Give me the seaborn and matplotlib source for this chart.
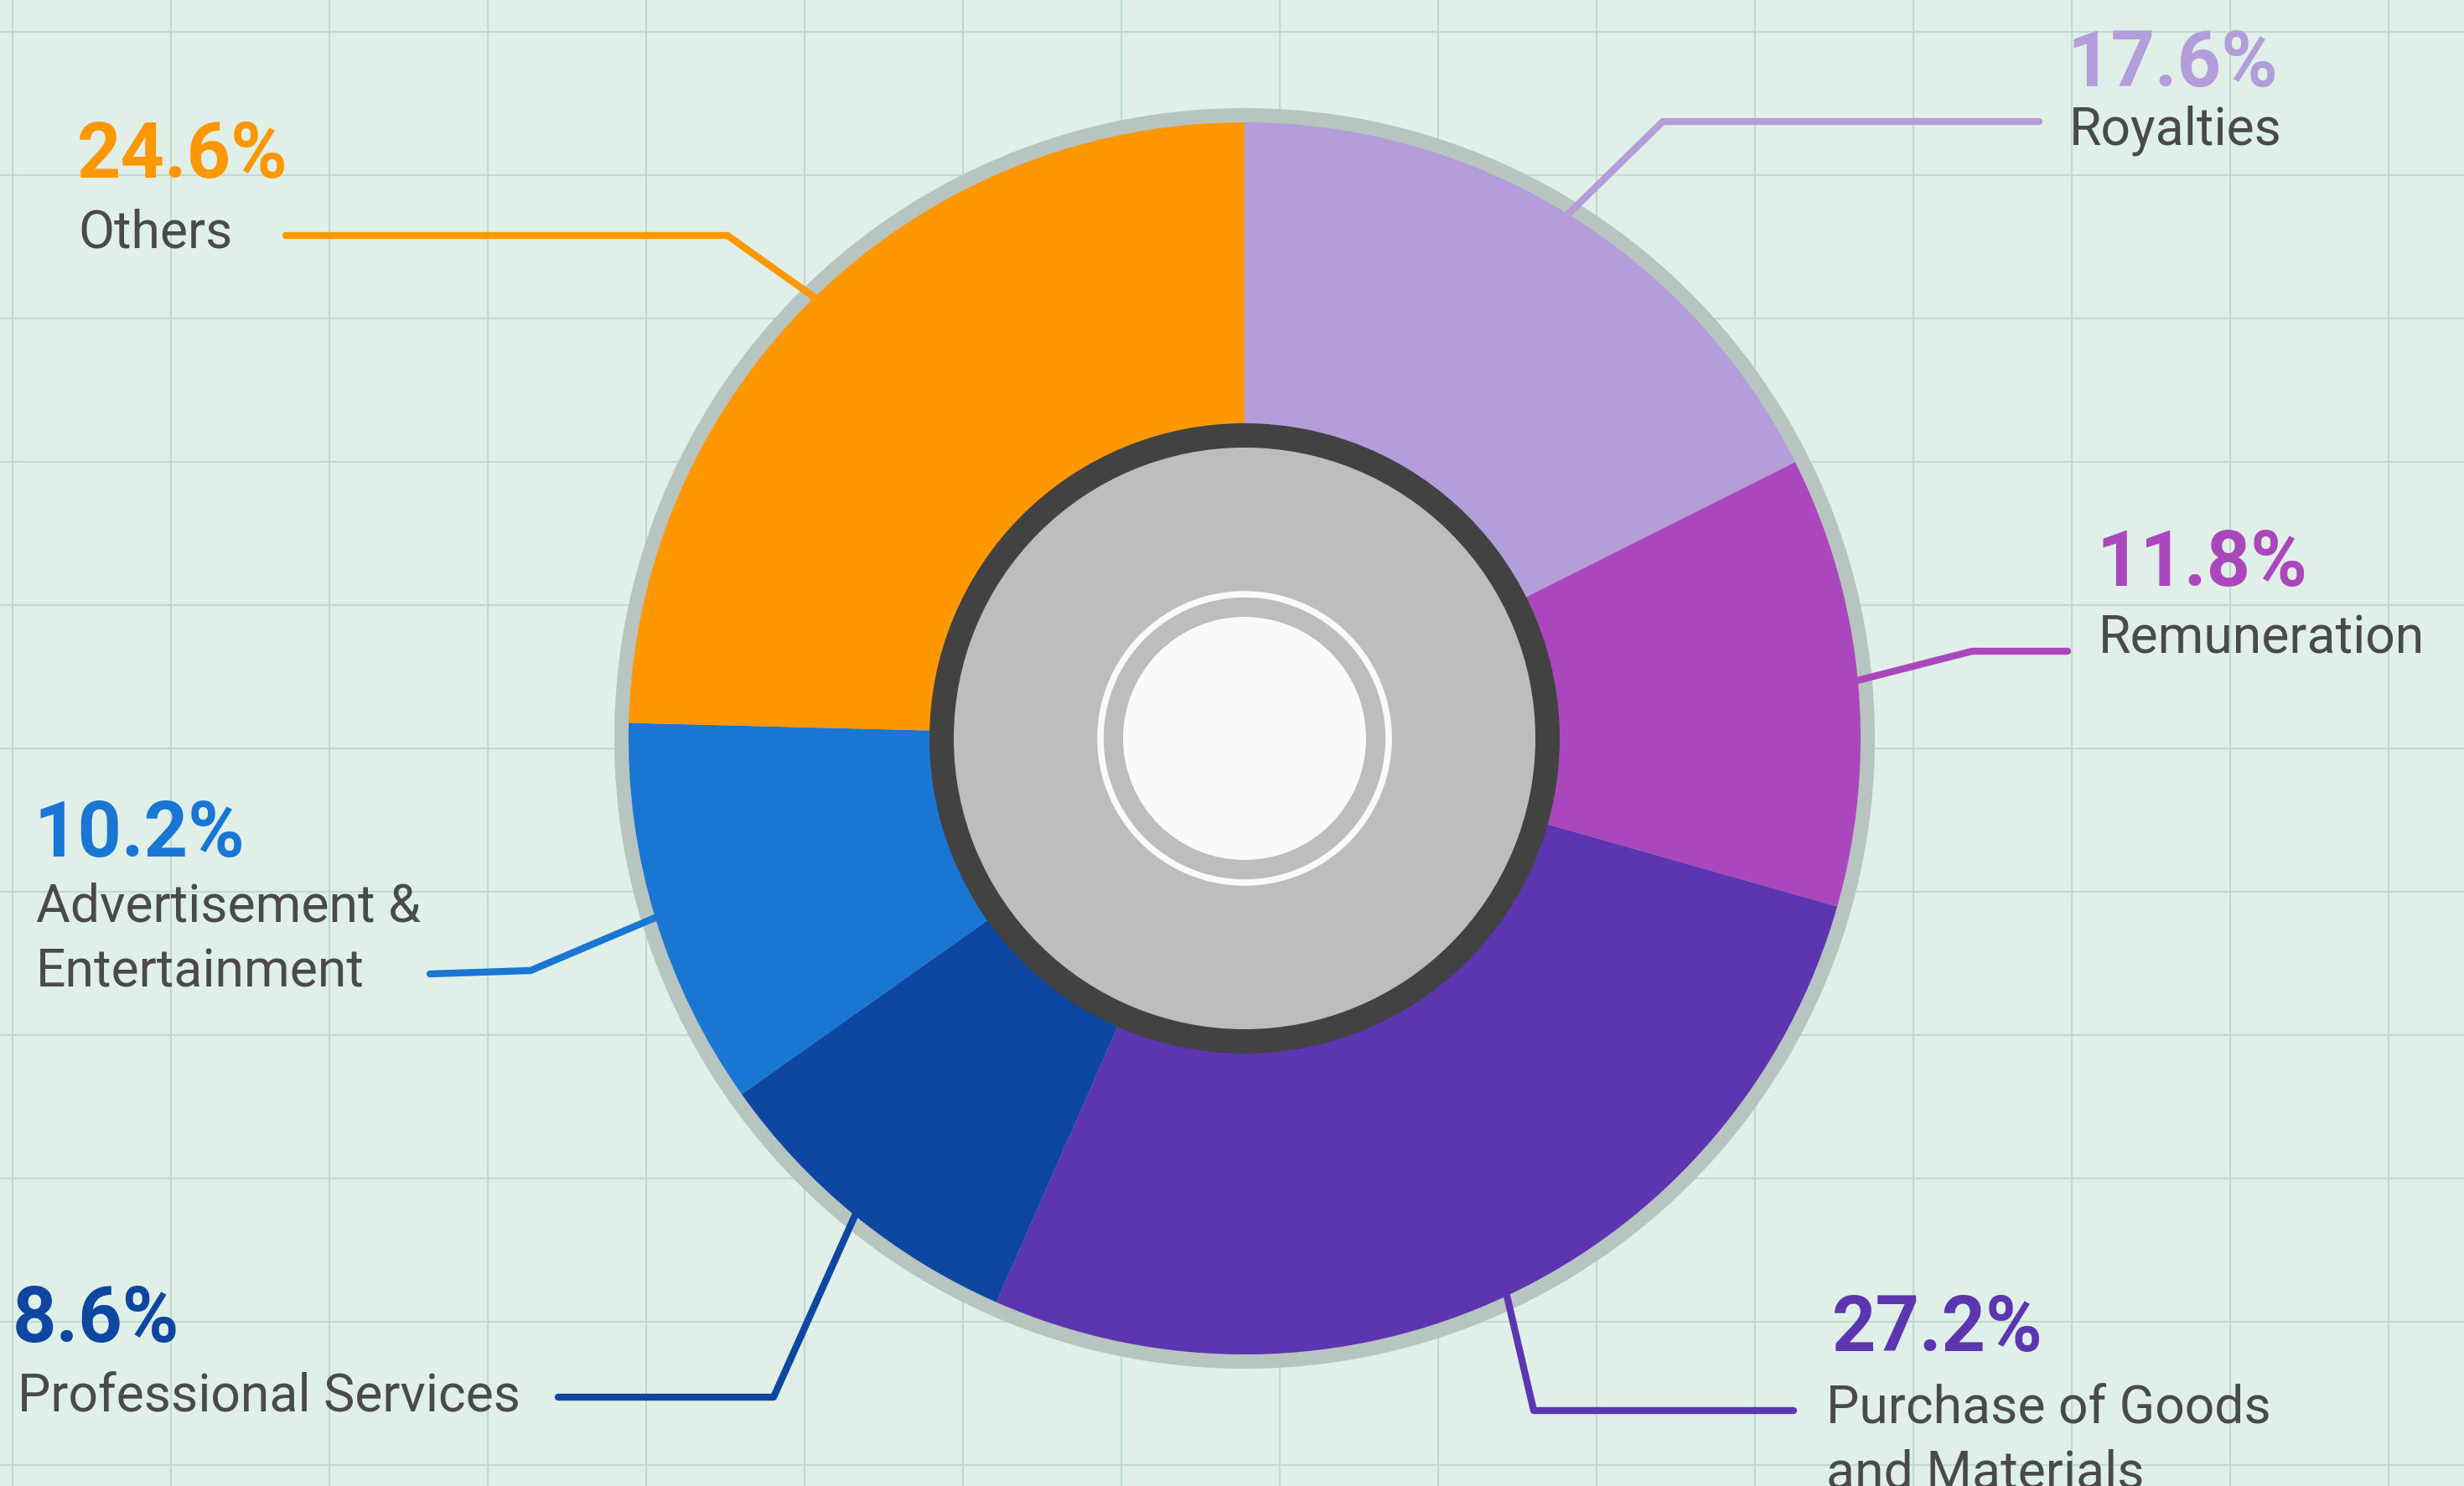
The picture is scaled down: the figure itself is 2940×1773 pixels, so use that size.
import numpy as np
import seaborn as sns
import matplotlib.pyplot as plt
from matplotlib.patches import Circle

# Expense breakdown (percent of total)
categories = ["Royalties", "Remuneration", "Purchase of Goods\nand Materials",
              "Professional Services", "Advertisement &\nEntertainment", "Others"]
shares = [17.6, 11.8, 27.2, 8.6, 10.2, 24.6]
colors = ["#b39ddb", "#ab47bc", "#5e35b1", "#0d47a1", "#1976d2", "#ff9800"]

# Label layout in image pixels (y measured from top): pct baseline, label baseline, line end, elbow
layout = {
    "Royalties": dict(pct=(2467, 103), lab=(2469, 172), end=(2433, 145), elbow=(1984, 145)),
    "Remuneration": dict(pct=(2502, 699), lab=(2504, 779), end=(2467, 777), elbow=(2353, 777)),
    "Purchase of Goods\nand Materials": dict(pct=(2186, 1612), lab=(2179, 1697), end=(2140, 1683), elbow=(1830, 1683)),
    "Professional Services": dict(pct=(15, 1601), lab=(21, 1683), end=(666, 1667), elbow=(923, 1667)),
    "Advertisement &\nEntertainment": dict(pct=(41, 1022), lab=(43, 1100), end=(513, 1162), elbow=(633, 1158)),
    "Others": dict(pct=(92, 212), lab=(93, 296), end=(341, 281), elbow=(868, 281)),
}

W, H = 2940, 1773
bg = "#e0efe8"

sns.set_style("whitegrid", {"axes.facecolor": bg, "grid.color": "#bddccf",
                            "axes.edgecolor": bg})
plt.rcParams['font.family'] = ['Roboto', 'DejaVu Sans']

fig = plt.figure(figsize=(W / 100, H / 100), dpi=100)
fig.patch.set_facecolor(bg)
ax = fig.add_axes([0, 0, 1, 1])

cx, cy = 1485, H - 881
r_out = 735

# outer grey rim
ax.add_patch(Circle((cx, cy), 752, color="#b8c4bf", zorder=0.8, lw=0))

ax.pie(shares, colors=colors, startangle=90, counterclock=False,
       center=(cx, cy), radius=r_out, frame=True,
       wedgeprops=dict(width=400, linewidth=0, zorder=1))

# hub
ax.add_patch(Circle((cx, cy), 376, color="#424242", zorder=2, lw=0))
ax.add_patch(Circle((cx, cy), 347, color="#bdbdbd", zorder=3, lw=0))
ax.add_patch(Circle((cx, cy), 172, fill=False, edgecolor="#fafafa", lw=5.5, zorder=4))
ax.add_patch(Circle((cx, cy), 145, color="#fafafa", zorder=5, lw=0))

# leader lines and labels
cum = np.cumsum([0] + shares[:-1])
for cat, val, c0, col in zip(categories, shares, cum, colors):
    lay = layout[cat]
    ang = np.deg2rad(90 - 360 * (c0 + val / 2) / 100)
    sx, sy = cx + r_out * np.cos(ang), cy + r_out * np.sin(ang)
    ex, ey = lay["elbow"]
    tx, ty = lay["end"]
    ax.plot([sx, ex, tx], [sy, H - ey, H - ty], color=col, lw=6,
            solid_capstyle="round", solid_joinstyle="round", zorder=0.9)

    px, py = lay["pct"]
    ax.text(px, H - py, f"{val:.1f}%", color=col, fontsize=66, fontweight="bold",
            ha="left", va="baseline")
    lx, ly = lay["lab"]
    for i, line in enumerate(cat.split("\n")):
        ax.text(lx, H - ly - i * 78, line, color="#4a4a4a", fontsize=45,
                fontweight="normal", ha="left", va="baseline")

# background grid
ax.set_xticks([15 + 189 * k for k in range(16)])
ax.set_yticks([H - (38 + 171 * k) for k in range(11)])
ax.tick_params(length=0, labelbottom=False, labelleft=False)
ax.grid(True, lw=1.5)
ax.set_axisbelow(True)
ax.set_xlim(0, W)
ax.set_ylim(0, H)
for s in ax.spines.values():
    s.set_visible(False)

fig.savefig("out.png", dpi=100, facecolor=bg)
